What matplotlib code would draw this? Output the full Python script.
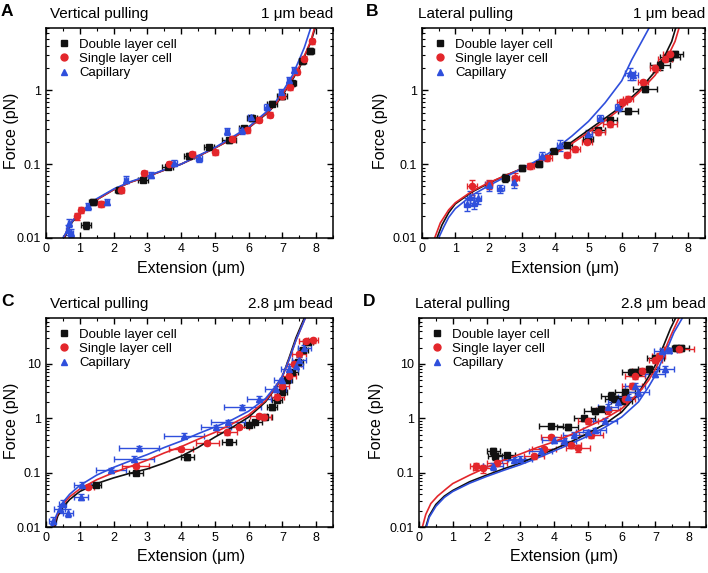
import matplotlib
matplotlib.use('Agg')
import matplotlib.pyplot as plt
from matplotlib.lines import Line2D
from matplotlib.ticker import MultipleLocator, LogLocator, FuncFormatter, NullFormatter

plt.rcParams['font.family'] = ['Liberation Sans', 'DejaVu Sans']

BLACK = '#111111'
RED = '#e3262b'
BLUE = '#2f4fdc'

labels = ['Double layer cell', 'Single layer cell', 'Capillary']

# ---------------- panel A: vertical pulling, 1 um bead ----------------
a_dbl_x = [1.18, 1.40, 2.17, 2.86, 3.60, 4.24, 4.83, 5.42, 5.86, 6.10, 6.70, 7.00, 7.29, 7.59, 7.83]
a_dbl_f = [0.0148, 0.031, 0.045, 0.062, 0.093, 0.13, 0.17, 0.21, 0.31, 0.42, 0.66, 0.83, 1.25, 2.5, 3.4]
a_dbl_xerr = [0.15, 0.12, 0.12, 0.15, 0.15, 0.15, 0.15, 0.2, 0.15, 0.15, 0.15, 0.15, 0.12, 0.1, 0.1]
a_dbl_ferr = [0.0015, 0.003, 0.004, 0.005, 0.007, 0.01, 0.01, 0.015, 0.02, 0.03, 0.05, 0.06, 0.1, 0.2, 0.3]

a_sgl_x = [0.91, 1.03, 1.63, 2.22, 2.91, 3.65, 4.33, 5.02, 5.52, 5.96, 6.30, 6.62, 7.00, 7.24, 7.44, 7.64, 7.88]
a_sgl_f = [0.0196, 0.024, 0.029, 0.045, 0.076, 0.10, 0.137, 0.145, 0.22, 0.29, 0.40, 0.47, 0.83, 1.1, 1.8, 2.7, 4.6]
a_sgl_xerr = [0.06, 0.06, 0.08, 0.08, 0.08, 0.08, 0.08, 0.08, 0.08, 0.08, 0.08, 0.06, 0.06, 0.06, 0.06, 0.06, 0.06]
a_sgl_ferr = [0.002, 0.002, 0.003, 0.004, 0.006, 0.008, 0.01, 0.012, 0.02, 0.025, 0.03, 0.04, 0.07, 0.1, 0.15, 0.2, 0.4]

a_cap_x = [0.64, 0.69, 0.74, 1.23, 1.82, 2.36, 3.10, 3.79, 4.53, 5.37, 5.81, 6.06, 6.55, 6.95, 7.19, 7.35]
a_cap_f = [0.013, 0.016, 0.0117, 0.027, 0.031, 0.062, 0.072, 0.105, 0.12, 0.28, 0.29, 0.43, 0.60, 0.95, 1.4, 1.9]
a_cap_xerr = [0.05, 0.05, 0.05, 0.06, 0.06, 0.06, 0.06, 0.08, 0.08, 0.06, 0.08, 0.08, 0.08, 0.06, 0.06, 0.06]
a_cap_ferr = [0.002, 0.002, 0.0015, 0.003, 0.003, 0.007, 0.007, 0.01, 0.012, 0.03, 0.03, 0.04, 0.06, 0.08, 0.12, 0.15]

a_fit_dbl_x = [0.55, 0.6, 0.7, 0.8, 1.0, 1.5, 2.0, 2.5, 3.0, 3.5, 4.0, 4.5, 5.0, 5.5, 6.0, 6.5, 6.8, 7.0, 7.3, 7.5, 7.7, 7.85, 7.97]
a_fit_dbl_f = [0.01, 0.0115, 0.0145, 0.017, 0.021, 0.033, 0.045, 0.057, 0.068, 0.083, 0.10, 0.128, 0.165, 0.22, 0.31, 0.47, 0.64, 0.85, 1.4, 2.0, 3.2, 4.6, 7.0]
a_fit_sgl_x = [0.53, 0.6, 0.7, 0.8, 1.0, 1.5, 2.0, 2.5, 3.0, 3.5, 4.0, 4.5, 5.0, 5.5, 6.0, 6.5, 6.8, 7.0, 7.3, 7.5, 7.7, 7.85, 7.95]
a_fit_sgl_f = [0.01, 0.012, 0.015, 0.0175, 0.0215, 0.033, 0.045, 0.057, 0.068, 0.083, 0.10, 0.128, 0.165, 0.22, 0.31, 0.48, 0.65, 0.87, 1.45, 2.1, 3.3, 4.8, 7.0]
a_fit_cap_x = [0.5, 0.6, 0.7, 0.8, 1.0, 1.5, 2.0, 2.5, 3.0, 3.5, 4.0, 4.5, 5.0, 5.5, 6.0, 6.5, 6.8, 7.0, 7.3, 7.5, 7.65, 7.84]
a_fit_cap_f = [0.01, 0.012, 0.0148, 0.0175, 0.022, 0.034, 0.046, 0.058, 0.069, 0.084, 0.10, 0.13, 0.168, 0.23, 0.32, 0.5, 0.7, 0.95, 1.6, 2.6, 3.8, 7.0]

# ---------------- panel B: lateral pulling, 1 um bead ----------------
b_dbl_x = [2.5, 3.0, 3.5, 3.95, 4.35, 5.0, 5.3, 5.65, 6.2, 6.7, 7.15, 7.45, 7.6]
b_dbl_f = [0.065, 0.088, 0.1, 0.15, 0.18, 0.22, 0.29, 0.4, 0.53, 1.05, 2.2, 2.8, 3.1]
b_dbl_xerr = [0.1, 0.1, 0.1, 0.1, 0.15, 0.15, 0.2, 0.2, 0.3, 0.35, 0.3, 0.3, 0.25]
b_dbl_ferr = [0.008, 0.008, 0.008, 0.01, 0.015, 0.02, 0.02, 0.03, 0.05, 0.1, 0.3, 0.3, 0.3]

b_sgl_x = [1.5, 2.0, 2.8, 3.25, 3.75, 4.35, 4.6, 4.95, 5.3, 5.65, 6.0, 6.2, 6.65, 7.0, 7.3, 7.45]
b_sgl_f = [0.05, 0.054, 0.065, 0.095, 0.12, 0.135, 0.16, 0.2, 0.27, 0.35, 0.7, 0.77, 1.3, 2.0, 2.7, 3.1]
b_sgl_xerr = [0.15, 0.1, 0.1, 0.1, 0.15, 0.1, 0.15, 0.15, 0.2, 0.2, 0.15, 0.15, 0.15, 0.15, 0.2, 0.2]
b_sgl_ferr = [0.012, 0.008, 0.012, 0.008, 0.01, 0.01, 0.012, 0.015, 0.02, 0.03, 0.06, 0.06, 0.1, 0.2, 0.3, 0.3]

b_cap_x = [1.35, 1.45, 1.55, 1.67, 2.0, 2.35, 2.75, 3.6, 4.15, 5.0, 5.35, 5.9, 6.25, 6.35]
b_cap_f = [0.029, 0.036, 0.03, 0.035, 0.052, 0.047, 0.058, 0.13, 0.18, 0.26, 0.42, 0.59, 1.7, 1.6]
b_cap_xerr = [0.1, 0.1, 0.1, 0.1, 0.1, 0.1, 0.05, 0.1, 0.1, 0.1, 0.1, 0.1, 0.15, 0.15]
b_cap_ferr = [0.006, 0.008, 0.005, 0.006, 0.008, 0.006, 0.01, 0.015, 0.03, 0.03, 0.04, 0.06, 0.3, 0.2]

b_fit_dbl_x = [0.45, 0.6, 0.8, 1.0, 1.5, 2.0, 2.5, 3.0, 3.5, 4.0, 4.5, 5.0, 5.5, 6.0, 6.5, 7.0, 7.3, 7.5, 7.62]
b_fit_dbl_f = [0.01, 0.015, 0.022, 0.029, 0.042, 0.055, 0.07, 0.087, 0.11, 0.145, 0.2, 0.29, 0.42, 0.61, 0.98, 1.8, 3.0, 4.6, 7.0]
b_fit_sgl_x = [0.38, 0.55, 0.8, 1.0, 1.5, 2.0, 2.5, 3.0, 3.5, 4.0, 4.5, 5.0, 5.5, 6.0, 6.5, 7.0, 7.4, 7.6, 7.72]
b_fit_sgl_f = [0.01, 0.016, 0.024, 0.03, 0.043, 0.056, 0.07, 0.087, 0.108, 0.14, 0.19, 0.27, 0.39, 0.58, 0.92, 1.6, 3.0, 4.6, 7.0]
b_fit_cap_x = [0.5, 0.65, 0.8, 1.0, 1.5, 2.0, 2.5, 3.0, 3.5, 4.0, 4.5, 5.0, 5.5, 6.0, 6.3, 6.6, 6.82]
b_fit_cap_f = [0.01, 0.014, 0.019, 0.025, 0.038, 0.051, 0.067, 0.087, 0.115, 0.16, 0.24, 0.38, 0.68, 1.35, 2.6, 4.6, 7.0]

# ---------------- panel C: vertical pulling, 2.8 um bead ----------------
c_dbl_x = [1.48, 2.66, 4.19, 5.42, 6.0, 6.2, 6.5, 6.7, 6.85, 7.0, 7.15, 7.3, 7.45, 7.6, 7.75]
c_dbl_f = [0.059, 0.1, 0.19, 0.37, 0.75, 0.87, 1.07, 1.6, 2.2, 3.0, 5.0, 7.0, 11, 18, 25]
c_dbl_xerr = [0.15, 0.2, 0.2, 0.2, 0.15, 0.2, 0.2, 0.15, 0.15, 0.15, 0.15, 0.15, 0.15, 0.15, 0.15]
c_dbl_ferr = [0.005, 0.01, 0.02, 0.03, 0.06, 0.08, 0.1, 0.15, 0.2, 0.3, 0.5, 0.7, 1.0, 2.0, 3.0]

c_sgl_x = [1.23, 2.66, 3.99, 4.78, 5.37, 5.71, 6.3, 6.45, 6.85, 7.0, 7.2, 7.35, 7.5, 7.7, 7.9]
c_sgl_f = [0.054, 0.13, 0.27, 0.35, 0.55, 0.7, 1.1, 1.05, 2.5, 4.0, 6.0, 10, 15, 26, 27]
c_sgl_xerr = [0.2, 0.4, 0.35, 0.35, 0.3, 0.3, 0.25, 0.2, 0.2, 0.2, 0.2, 0.2, 0.2, 0.2, 0.15]
c_sgl_ferr = [0.005, 0.01, 0.02, 0.03, 0.05, 0.06, 0.1, 0.1, 0.25, 0.4, 0.6, 1.0, 1.5, 3.0, 3.0]

c_cap_x = [0.2, 0.4, 0.49, 0.64, 1.03, 1.08, 1.92, 2.61, 2.76, 4.09, 5.04, 5.4, 5.81, 6.3, 6.8, 7.0, 7.2, 7.4, 7.5, 7.65]
c_cap_f = [0.013, 0.021, 0.027, 0.018, 0.036, 0.06, 0.11, 0.18, 0.28, 0.48, 0.69, 0.87, 1.6, 2.3, 3.5, 5.0, 8.0, 9.0, 12, 20]
c_cap_xerr = [0.1, 0.15, 0.1, 0.15, 0.2, 0.25, 0.45, 0.6, 0.6, 0.6, 0.45, 0.5, 0.55, 0.35, 0.3, 0.25, 0.25, 0.2, 0.2, 0.2]
c_cap_ferr = [0.002, 0.003, 0.004, 0.003, 0.005, 0.006, 0.01, 0.02, 0.03, 0.05, 0.07, 0.08, 0.15, 0.3, 0.4, 0.6, 1.0, 1.0, 1.5, 2.5]

c_fit_dbl_x = [0.25, 0.35, 0.5, 0.7, 1.0, 1.5, 2.0, 2.5, 3.0, 3.5, 4.0, 4.5, 5.0, 5.5, 6.0, 6.5, 6.8, 7.0, 7.2, 7.4, 7.55, 7.65]
c_fit_dbl_f = [0.01, 0.016, 0.023, 0.032, 0.045, 0.063, 0.08, 0.098, 0.117, 0.15, 0.2, 0.29, 0.45, 0.67, 1.05, 2.0, 3.6, 5.8, 13, 30, 50, 70]
c_fit_sgl_x = [0.22, 0.3, 0.45, 0.7, 1.0, 1.5, 2.0, 2.5, 3.0, 3.5, 4.0, 4.5, 5.0, 5.5, 6.0, 6.5, 6.8, 7.0, 7.2, 7.4, 7.55, 7.68]
c_fit_sgl_f = [0.01, 0.015, 0.024, 0.036, 0.05, 0.074, 0.1, 0.13, 0.17, 0.23, 0.3, 0.41, 0.55, 0.78, 1.15, 2.1, 3.7, 5.8, 12, 27, 45, 70]
c_fit_cap_x = [0.2, 0.3, 0.45, 0.7, 1.0, 1.5, 2.0, 2.5, 3.0, 3.5, 4.0, 4.5, 5.0, 5.5, 6.0, 6.5, 6.8, 7.0, 7.2, 7.4, 7.55, 7.68]
c_fit_cap_f = [0.01, 0.016, 0.026, 0.04, 0.058, 0.09, 0.125, 0.165, 0.215, 0.29, 0.38, 0.52, 0.69, 0.93, 1.35, 2.3, 3.9, 6.0, 12, 27, 45, 70]

# ---------------- panel D: lateral pulling, 2.8 um bead ----------------
d_dbl_x = [2.2, 2.25, 2.6, 3.9, 4.4, 4.9, 5.2, 5.4, 5.7, 5.8, 6.0, 6.1, 6.3, 6.5, 6.8, 7.0, 7.6, 7.75]
d_dbl_f = [0.25, 0.2, 0.21, 0.72, 0.7, 1.0, 1.35, 1.5, 2.6, 2.3, 2.1, 3.0, 7.0, 7.2, 8.0, 13, 20, 20]
d_dbl_xerr = [0.2, 0.2, 0.25, 0.35, 0.3, 0.3, 0.3, 0.3, 0.3, 0.3, 0.3, 0.3, 0.3, 0.3, 0.3, 0.25, 0.25, 0.25]
d_dbl_ferr = [0.04, 0.03, 0.02, 0.08, 0.08, 0.1, 0.15, 0.15, 0.4, 0.3, 0.3, 0.4, 1.0, 1.0, 1.0, 1.5, 2.5, 2.5]

d_sgl_x = [1.7, 1.9, 2.3, 3.4, 3.7, 3.9, 4.5, 4.7, 5.0, 5.1, 5.6, 6.1, 6.3, 6.4, 6.6, 7.0, 7.1, 7.7]
d_sgl_f = [0.13, 0.12, 0.15, 0.2, 0.27, 0.45, 0.32, 0.28, 0.88, 0.5, 1.4, 2.3, 4.0, 6.0, 7.5, 12, 14, 19]
d_sgl_xerr = [0.2, 0.3, 0.3, 0.3, 0.35, 0.3, 0.3, 0.35, 0.3, 0.35, 0.35, 0.3, 0.3, 0.3, 0.3, 0.2, 0.2, 0.45]
d_sgl_ferr = [0.02, 0.02, 0.02, 0.025, 0.03, 0.05, 0.04, 0.04, 0.1, 0.06, 0.2, 0.3, 0.5, 0.8, 1.0, 1.5, 2.0, 2.5]

d_cap_x = [2.2, 2.8, 3.0, 3.6, 4.0, 4.3, 4.6, 5.0, 5.2, 5.5, 5.6, 5.9, 6.2, 6.4, 6.5, 7.0, 7.3, 7.2, 7.4]
d_cap_f = [0.13, 0.17, 0.18, 0.25, 0.4, 0.38, 0.5, 0.55, 0.6, 0.9, 1.6, 2.0, 2.5, 4.0, 3.0, 6.5, 8.0, 17, 18]
d_cap_xerr = [0.3, 0.35, 0.35, 0.35, 0.35, 0.35, 0.35, 0.35, 0.35, 0.35, 0.3, 0.3, 0.3, 0.3, 0.3, 0.3, 0.25, 0.25, 0.25]
d_cap_ferr = [0.02, 0.02, 0.02, 0.03, 0.05, 0.05, 0.06, 0.07, 0.07, 0.1, 0.2, 0.25, 0.3, 0.5, 0.4, 0.8, 1.0, 2.0, 2.0]

d_fit_dbl_x = [0.2, 0.3, 0.5, 0.75, 1.0, 1.5, 2.0, 2.5, 3.0, 3.5, 4.0, 4.5, 5.0, 5.5, 6.0, 6.5, 6.8, 7.0, 7.26, 7.45, 7.6]
d_fit_dbl_f = [0.01, 0.016, 0.026, 0.037, 0.047, 0.068, 0.09, 0.117, 0.15, 0.2, 0.27, 0.37, 0.53, 0.78, 1.3, 2.9, 5.8, 9.5, 23, 45, 70]
d_fit_sgl_x = [0.1, 0.2, 0.35, 0.55, 0.8, 1.0, 1.5, 2.0, 2.5, 3.0, 3.5, 4.0, 4.5, 5.0, 5.5, 6.0, 6.5, 6.8, 7.0, 7.26, 7.5, 7.7]
d_fit_sgl_f = [0.01, 0.017, 0.027, 0.037, 0.05, 0.063, 0.09, 0.125, 0.17, 0.22, 0.29, 0.37, 0.5, 0.7, 0.98, 1.5, 2.9, 5.0, 8.0, 17, 38, 70]
d_fit_cap_x = [0.22, 0.3, 0.5, 0.75, 1.0, 1.5, 2.0, 2.5, 3.0, 3.5, 4.0, 4.5, 5.0, 5.5, 6.0, 6.5, 6.8, 7.0, 7.3, 7.55, 7.8]
d_fit_cap_f = [0.01, 0.015, 0.024, 0.035, 0.045, 0.064, 0.085, 0.11, 0.14, 0.185, 0.25, 0.34, 0.47, 0.68, 1.05, 2.0, 3.8, 6.2, 16, 38, 70]


W, H = 708, 573
fig = plt.figure(figsize=(W / 100, H / 100), dpi=100)


def fx(px):
    return px / W


def fy(py):
    return 1 - py / H


def make_axes(left, top, right, bottom):
    return fig.add_axes([fx(left), fy(bottom), fx(right) - fx(left), fy(top) - fy(bottom)])


def style_axes(ax, ymax, yticks):
    ax.set_yscale('log')
    ax.set_xlim(0, 8.5)
    ax.set_ylim(0.01, ymax)
    ax.xaxis.set_major_locator(MultipleLocator(1))
    ax.xaxis.set_minor_locator(MultipleLocator(0.5))
    ax.set_yticks(yticks)
    ax.yaxis.set_major_formatter(FuncFormatter(lambda v, p: '%g' % v))
    ax.yaxis.set_minor_locator(LogLocator(base=10, subs=range(2, 10)))
    ax.yaxis.set_minor_formatter(NullFormatter())
    ax.tick_params(which='both', direction='in', top=True, right=True, labelsize=9)
    ax.tick_params(which='major', length=4, width=1)
    ax.tick_params(which='minor', length=2, width=0.8)
    for s in ax.spines.values():
        s.set_linewidth(1.1)


def draw_series(ax, x, f, xerr, ferr, color, marker):
    ax.errorbar(x, f, xerr=xerr, yerr=ferr, fmt=marker, color=color, mec=color,
                ms=4.5, elinewidth=1, capsize=2, capthick=1)


def add_legend(ax):
    handles = [Line2D([], [], ls='none', marker='s', color=BLACK, ms=4.5),
               Line2D([], [], ls='none', marker='o', color=RED, ms=5),
               Line2D([], [], ls='none', marker='^', color=BLUE, ms=5)]
    ax.legend(handles, labels, loc='upper left', frameon=False, fontsize=9.5,
              handletextpad=0.5, labelspacing=0.15, borderaxespad=0.4, handlelength=1.2)


panels = [
    # axes box, ymax, yticks, panel letter, title, bead, data
    ((46, 28, 333, 238), 7, [0.01, 0.1, 1], 'A', 'Vertical pulling', '1 \u03bcm bead',
     [(a_dbl_x, a_dbl_f, a_dbl_xerr, a_dbl_ferr), (a_sgl_x, a_sgl_f, a_sgl_xerr, a_sgl_ferr),
      (a_cap_x, a_cap_f, a_cap_xerr, a_cap_ferr)],
     [(a_fit_dbl_x, a_fit_dbl_f), (a_fit_sgl_x, a_fit_sgl_f), (a_fit_cap_x, a_fit_cap_f)]),
    ((422, 28, 705, 238), 7, [0.01, 0.1, 1], 'B', 'Lateral pulling', '1 \u03bcm bead',
     [(b_dbl_x, b_dbl_f, b_dbl_xerr, b_dbl_ferr), (b_sgl_x, b_sgl_f, b_sgl_xerr, b_sgl_ferr),
      (b_cap_x, b_cap_f, b_cap_xerr, b_cap_ferr)],
     [(b_fit_dbl_x, b_fit_dbl_f), (b_fit_sgl_x, b_fit_sgl_f), (b_fit_cap_x, b_fit_cap_f)]),
    ((46, 318, 333, 527), 70, [0.01, 0.1, 1, 10], 'C', 'Vertical pulling', '2.8 \u03bcm bead',
     [(c_dbl_x, c_dbl_f, c_dbl_xerr, c_dbl_ferr), (c_sgl_x, c_sgl_f, c_sgl_xerr, c_sgl_ferr),
      (c_cap_x, c_cap_f, c_cap_xerr, c_cap_ferr)],
     [(c_fit_dbl_x, c_fit_dbl_f), (c_fit_sgl_x, c_fit_sgl_f), (c_fit_cap_x, c_fit_cap_f)]),
    ((419, 318, 706, 527), 70, [0.01, 0.1, 1, 10], 'D', 'Lateral pulling', '2.8 \u03bcm bead',
     [(d_dbl_x, d_dbl_f, d_dbl_xerr, d_dbl_ferr), (d_sgl_x, d_sgl_f, d_sgl_xerr, d_sgl_ferr),
      (d_cap_x, d_cap_f, d_cap_xerr, d_cap_ferr)],
     [(d_fit_dbl_x, d_fit_dbl_f), (d_fit_sgl_x, d_fit_sgl_f), (d_fit_cap_x, d_fit_cap_f)]),
]

colors = [BLACK, RED, BLUE]
markers = ['s', 'o', '^']

for box, ymax, yticks, letter, title, bead, series, fits in panels:
    left, top, right, bottom = box
    ax = make_axes(left, top, right, bottom)
    # points with error bars, fits drawn on top (blue fit last like the original)
    for (x, f, xe, fe), c, m in zip(series, colors, markers):
        draw_series(ax, x, f, xe, fe, c, m)
    for (x, f), c in zip([fits[0], fits[1], fits[2]], colors):
        ax.plot(x, f, color=c, lw=1.2)
    style_axes(ax, ymax, yticks)
    add_legend(ax)

    # texts around the axes
    fig.text(fx(left - 39 if left < 100 else left - 50), fy(top - 16), letter,
             fontsize=12.5, fontweight='bold', ha='center', va='center')
    fig.text(fx(left + 4 if left < 100 else left - 4), fy(top - 14), title,
             fontsize=11, ha='left', va='center')
    fig.text(fx(right), fy(top - 14), bead, fontsize=11, ha='right', va='center')
    fig.text(fx((left + right) / 2 + 2), fy(bottom + 30), 'Extension (\u03bcm)',
             fontsize=11.5, ha='center', va='center')
    fig.text(fx(left - 34 if left < 100 else left - 42), fy((top + bottom) / 2 - 2), 'Force (pN)',
             fontsize=11.5, ha='center', va='center', rotation=90)

plt.savefig('out.png', dpi=100)
